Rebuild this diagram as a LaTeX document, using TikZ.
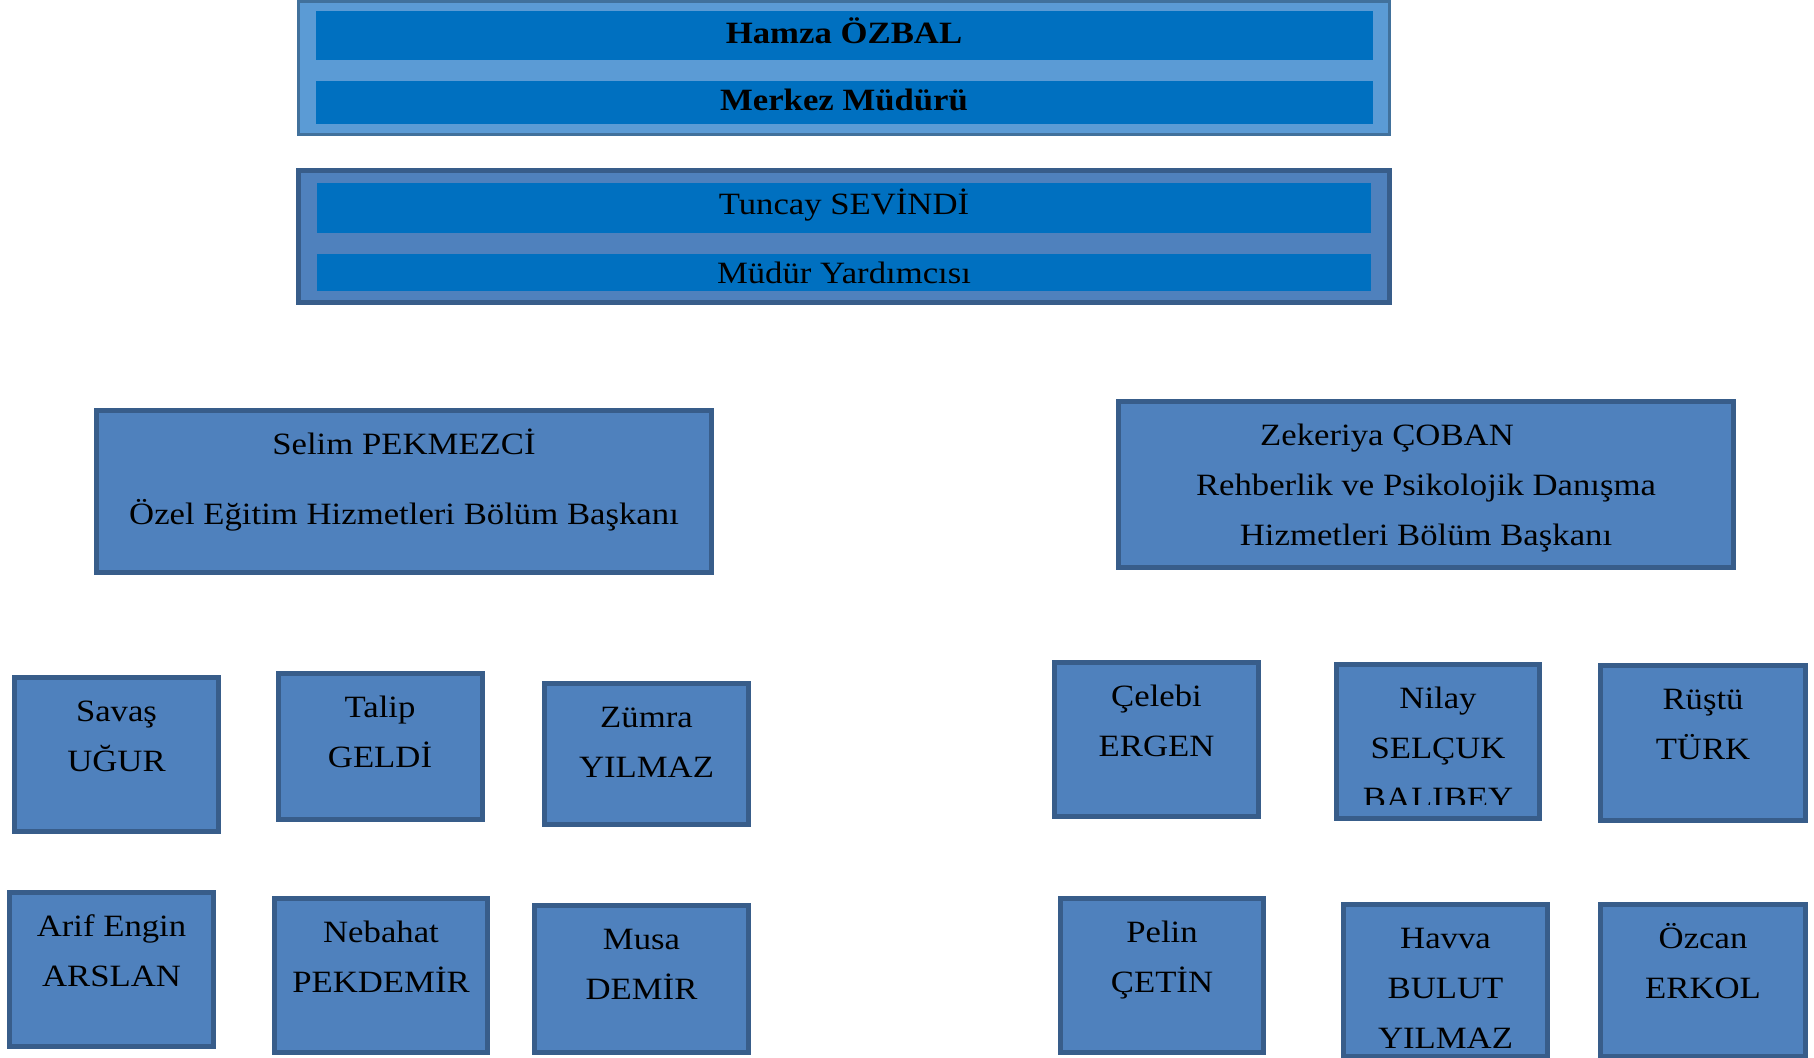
\documentclass[tikz,border=0pt]{standalone}
\usepackage{fontspec}
\setmainfont{Liberation Serif}[FakeStretch=1.12]
\usetikzlibrary{positioning}

\definecolor{seritmavi}{HTML}{0070C0}
\definecolor{mudurmavi}{HTML}{5B9BD5}
\definecolor{mudurcizgi}{HTML}{41719C}
\definecolor{kutumavi}{HTML}{4F81BD}
\definecolor{kutucizgi}{HTML}{385D8A}

\begin{document}
\begin{tikzpicture}[
    x=1pt, y=-1pt,
    node distance=8.5pt,
    mudur/.style={
        rectangle,
        draw=mudurcizgi,
        fill=mudurmavi,
        line width=3pt,
        outer sep=0pt
    },
    kutu/.style={
        rectangle,
        draw=kutucizgi,
        fill=kutumavi,
        line width=5pt,
        outer sep=0pt
    },
    serit/.style={
        rectangle,
        fill=seritmavi,
        inner sep=0pt,
        outer sep=0pt,
        text height=22pt,
        text depth=6pt,
        font=\fontsize{31}{40}\selectfont
    },
    personel/.style={
        kutu,
        minimum width=204pt,
        minimum height=154pt
    },
    yazi/.style={
        inner sep=0pt,
        align=center,
        font=\fontsize{31}{50}\selectfont
    }
]
    \useasboundingbox (0,0) rectangle (1814,1057);

    % Merkez müdürü
    \node (mudur) [mudur, minimum width=1091pt, minimum height=133pt] at (844,68) {};
    \node (hamza) [serit, minimum width=1057pt, minimum height=49pt, font=\bfseries\fontsize{31}{40}\selectfont] at (844,35.5) {Hamza ÖZBAL};
    \node (unvan1) [serit, minimum width=1057pt, minimum height=43pt, font=\bfseries\fontsize{31}{40}\selectfont] at (844,102.5) {Merkez Müdürü};

    % Müdür yardımcısı
    \node (yardimci) [kutu, minimum width=1091pt, minimum height=132pt] at (844,236.5) {};
    \node (tuncay) [serit, minimum width=1054pt, minimum height=50pt, text depth=10pt] at (844,208) {Tuncay SEVİNDİ};
    \node (unvan2) [serit, minimum width=1054pt, minimum height=37pt, text depth=1pt] at (844,272.5) {Müdür Yardımcısı};

    % Bölüm başkanları
    \node (selim) [kutu, minimum width=615pt, minimum height=162pt] at (404,491.5) {};
    \node (selim-ad) [yazi, below=of selim.north] {\strut Selim PEKMEZCİ\\[20pt]Özel Eğitim Hizmetleri Bölüm Başkanı};
    \node (zekeriya) [kutu, minimum width=615pt, minimum height=166pt] at (1426,484.5) {};
    \node (zekeriya-ad) [yazi, below=of zekeriya.north] {\strut Zekeriya ÇOBAN\hspace*{78pt}\\Rehberlik ve Psikolojik Danışma\\Hizmetleri Bölüm Başkanı};

    % Özel eğitim personeli
    \node (savas) [personel] at (116.5,754.5) {};
    \node (savas-ad) [yazi, below=of savas.north] {\strut Savaş\\UĞUR};
    \node (talip) [personel, minimum height=146pt] at (380,746.5) {};
    \node (talip-ad) [yazi, below=of talip.north] {\strut Talip\\GELDİ};
    \node (zumra) [personel, minimum height=141pt] at (646.5,754) {};
    \node (zumra-ad) [yazi, below=of zumra.north] {\strut Zümra\\YILMAZ};
    \node (arif) [personel] at (111.5,969.5) {};
    \node (arif-ad) [yazi, below=of arif.north] {\strut Arif Engin\\ARSLAN};
    \node (nebahat) [personel, minimum width=213pt] at (381,975.5) {};
    \node (nebahat-ad) [yazi, below=of nebahat.north] {\strut Nebahat\\PEKDEMİR};
    \node (musa) [personel, minimum width=214pt, minimum height=147pt] at (641.5,979) {};
    \node (musa-ad) [yazi, below=of musa.north] {\strut Musa\\DEMİR};

    % Rehberlik personeli
    \node (celebi) [personel] at (1156.5,739.5) {};
    \node (celebi-ad) [yazi, below=of celebi.north] {\strut Çelebi\\ERGEN};
    \node (nilay) [personel, minimum width=203pt] at (1438,741.5) {};
    \begin{scope}
        \clip ([shift={(2.5pt,-2.5pt)}]nilay.north west) rectangle ([shift={(-2.5pt,14pt)}]nilay.south east);
        \node (nilay-ad) [yazi, below=of nilay.north] {\strut Nilay\\SELÇUK\\BALIBEY};
    \end{scope}
    \node (rustu) [personel, minimum width=205pt, minimum height=155pt] at (1703,743) {};
    \node (rustu-ad) [yazi, below=of rustu.north] {\strut Rüştü\\TÜRK};
    \node (pelin) [personel, minimum width=203pt] at (1162,975.5) {};
    \node (pelin-ad) [yazi, below=of pelin.north] {\strut Pelin\\ÇETİN};
    \node (havva) [personel, minimum height=152pt] at (1445.5,980.5) {};
    \node (havva-ad) [yazi, below=of havva.north] {\strut Havva\\BULUT\\YILMAZ};
    \node (ozcan) [personel, minimum width=205pt, minimum height=152pt] at (1703,980.5) {};
    \node (ozcan-ad) [yazi, below=of ozcan.north] {\strut Özcan\\ERKOL};
\end{tikzpicture}
\end{document}
